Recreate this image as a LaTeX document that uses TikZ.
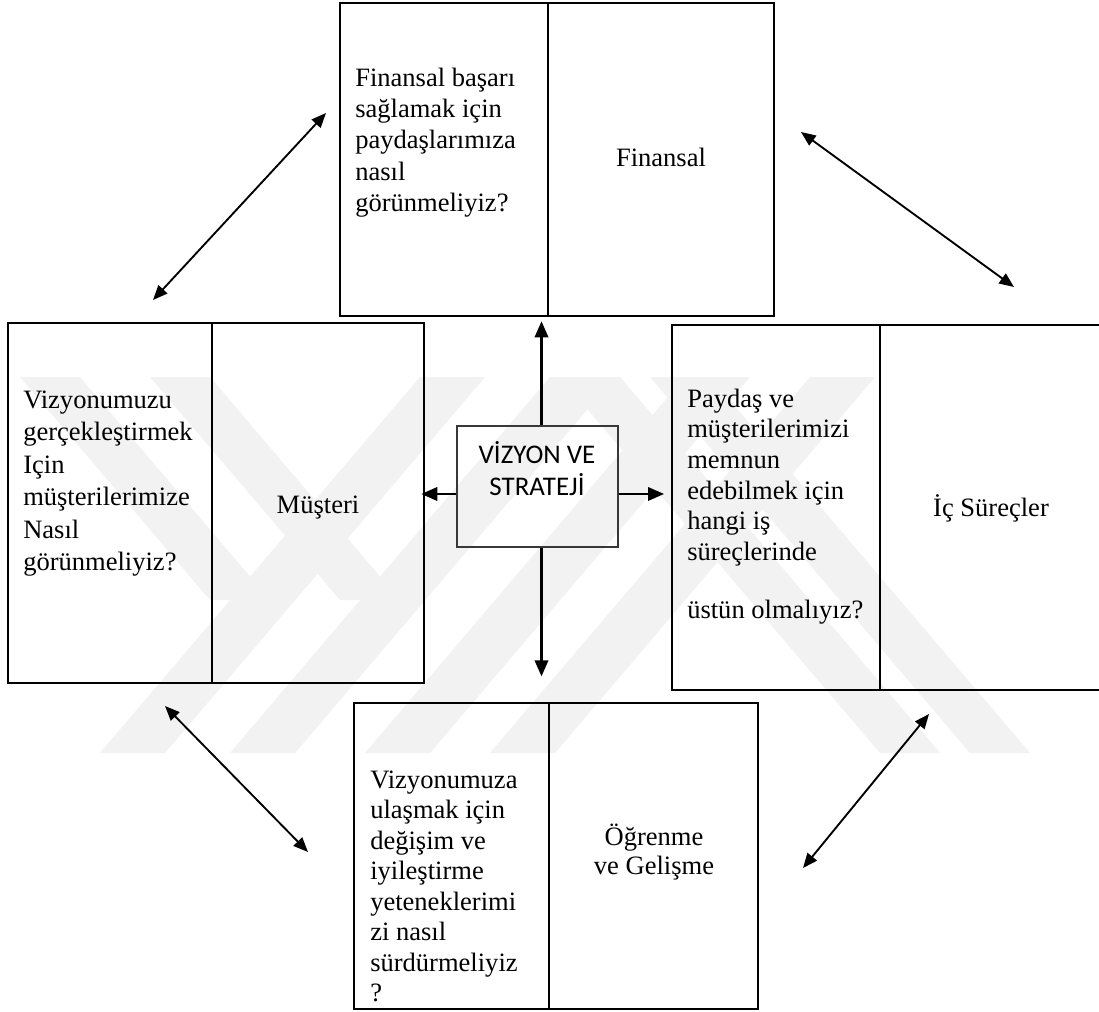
\documentclass[tikz,border=0pt]{standalone}
\usepackage{fontspec}
\setmainfont{Liberation Serif}
\newfontfamily\calib{Carlito}
\usetikzlibrary{arrows.meta,fit}
\begin{document}
\begin{tikzpicture}[x=0.75pt,y=-0.75pt,
  box/.style={draw=black,line width=1.9pt,inner sep=0pt},
  divider/.style={draw=black,line width=1.7pt},
  arr/.style={line width=1.8pt,-{Triangle[length=12pt,width=10pt]}},
  darr/.style={line width=1.4pt,{Triangle[length=11pt,width=9pt]}-{Triangle[length=11pt,width=9pt]}},
  qtext/.style={inner sep=0pt,anchor=base west},
  ltext/.style={inner sep=0pt,anchor=base,font=\fontsize{19.9pt}{21.8pt}\selectfont},
  wm/.style={fill=black!5,draw=none}]
\useasboundingbox (0,0) rectangle (1099,1011);
\fill[white] (0,0) rectangle (1099,1011);
% faint watermark
\fill[wm] (20,377) -- (80,377) -- (270,600) -- (210,600) -- cycle;
\fill[wm] (150,377) -- (210,377) -- (400,600) -- (340,600) -- cycle;
\foreach \b in {100,230,365,490}{
  \fill[wm] (\b,753) -- (\b+65,753) -- (\b+385,377) -- (\b+320,377) -- cycle;
}
\fill[wm] (560,377) -- (620,377) -- (940,753) -- (880,753) -- cycle;
\fill[wm] (650,377) -- (710,377) -- (1030,753) -- (970,753) -- cycle;

% boxes
\node[box,fit={(340,3)(774,316)}] (fin) {};
\node[box,fit={(8,323)(424,683)}] (cus) {};
\node[box,fit={(672,325)(1103,690)}] (ips) {};
\node[box,fit={(354,703)(758,1009)}] (lrn) {};
\node[draw=black!78,line width=1.4pt,inner sep=0pt,fit={(457,426)(618,547)}] (vz) {};

% dividers
\draw[divider] (548,3) -- (548,316);
\draw[divider] (212,323) -- (212,683);
\draw[divider] (880,325) -- (880,690);
\draw[divider] (549,703) -- (549,1009);

% question texts
\node[qtext] (finq) at (355,86) {\parbox[t]{300pt}{\fontsize{19.9pt}{23.6pt}\selectfont\raggedright
Finansal başarı\\sağlamak için\\paydaşlarımıza\\nasıl\\görünmeliyiz?}};
\node[qtext] (cusq) at (23,408) {\parbox[t]{300pt}{\fontsize{19.9pt}{24.4pt}\selectfont\raggedright
Vizyonumuzu\\gerçekleştirmek\\Için\\müşterilerimize\\Nasıl\\görünmeliyiz?}};
\node[qtext] (ipsq) at (687,407) {\parbox[t]{300pt}{\fontsize{19.9pt}{23pt}\selectfont\raggedright
Paydaş ve\\müşterilerimizi\\memnun\\edebilmek için\\hangi iş\\süreçlerinde\\[20.5pt]üstün olmalıyız?}};
\node[qtext] (lrnq) at (370,788) {\parbox[t]{300pt}{\fontsize{19.9pt}{22.9pt}\selectfont\raggedright
Vizyonumuza\\ulaşmak için\\değişim ve\\iyileştirme\\yeteneklerimi\\zi nasıl\\sürdürmeliyiz\\?}};

% labels
\node[ltext] (finl) at (661,166) {Finansal};
\node[ltext] (cusl) at (318,513) {Müşteri};
\node[ltext] (ipsl) at (991,516) {İç Süreçler};
\node[ltext] (lrnl) at (654,845) {\parbox[t]{200pt}{\centering Öğrenme\\ve Gelişme}};
\node[inner sep=0pt,anchor=base] (vzt) at (537,463) {\parbox[t]{150pt}{\calib\fontsize{20.2pt}{24pt}\selectfont\centering VİZYON VE\\STRATEJİ}};

% arrows from centre
\draw[arr] ([xshift=3pt]vz.north) -- ([xshift=3pt,yshift=-3pt]vz.north |- fin.south);
\draw[arr] ([xshift=3pt]vz.south) -- ([xshift=3pt,yshift=19pt]vz.south |- lrn.north);
\draw[arr] ([yshift=-5.6pt]vz.west) -- ([yshift=-5.6pt,xshift=-3pt]vz.west -| cus.east);
\draw[arr] ([yshift=-5.6pt]vz.east) -- ([yshift=-5.6pt,xshift=-5pt]vz.east -| ips.west);

% diagonal double arrows
\coordinate (a1s) at (153,300); \coordinate (a1e) at (326,113);
\coordinate (a2s) at (801,132); \coordinate (a2e) at (1014,287);
\coordinate (a3s) at (165,706); \coordinate (a3e) at (308,852);
\coordinate (a4s) at (929,714); \coordinate (a4e) at (803,868);
\draw[darr] (a1s) -- (a1e);
\draw[darr] (a2s) -- (a2e);
\draw[darr] (a3s) -- (a3e);
\draw[darr] (a4s) -- (a4e);
\end{tikzpicture}
\end{document}
